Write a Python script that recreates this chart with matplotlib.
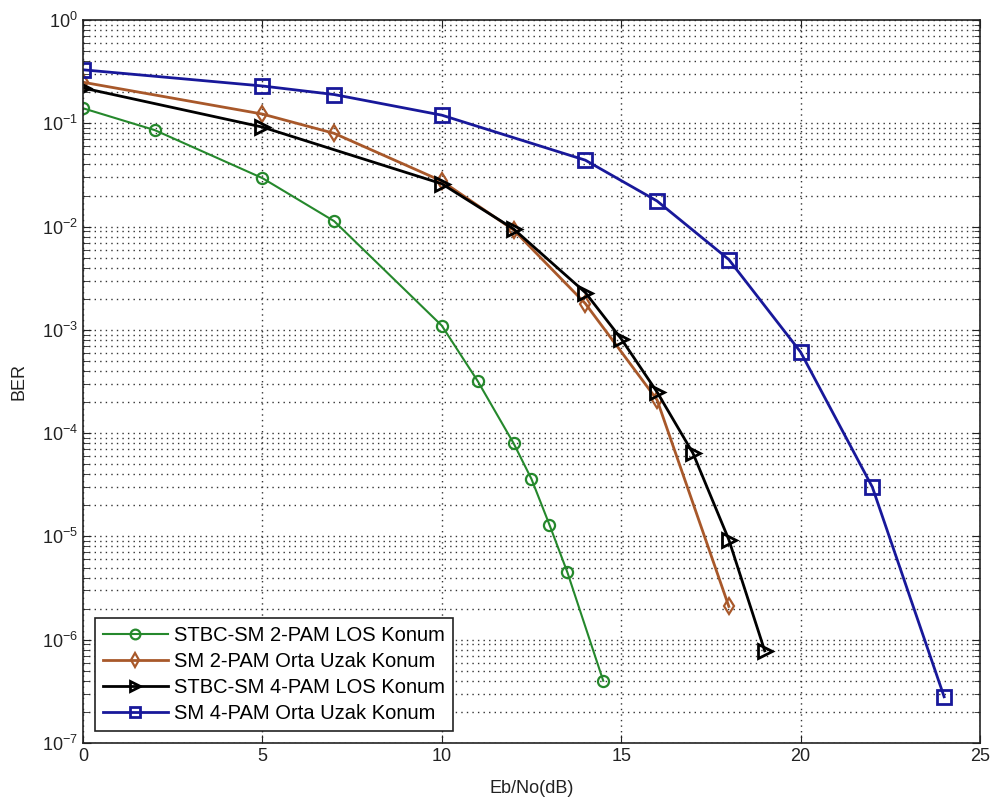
import matplotlib
matplotlib.use('Agg')
import matplotlib.pyplot as plt
from matplotlib.ticker import LogLocator, NullFormatter

plt.rcParams['font.family'] = ['Liberation Sans', 'DejaVu Sans']

# STBC-SM 2-PAM LOS
snr_g = [0, 2, 5, 7, 10, 11, 12, 12.5, 13, 13.5, 14.5]
ber_g = [0.14, 0.086, 0.0295, 0.0113, 1.1e-3, 3.2e-4, 8e-5, 3.6e-5, 1.3e-5, 4.5e-6, 4e-7]

# SM 2-PAM Orta Uzak
snr_o = [0, 5, 7, 10, 12, 14, 16, 18]
ber_o = [0.25, 0.123, 0.08, 0.0276, 0.0093, 0.0018, 2.1e-4, 2.1e-6]

# STBC-SM 4-PAM LOS
snr_k = [0, 5, 10, 12, 14, 15, 16, 17, 18, 19]
ber_k = [0.22, 0.092, 0.026, 0.0095, 0.0023, 8.2e-4, 2.5e-4, 6.4e-5, 9.3e-6, 7.8e-7]

# SM 4-PAM Orta Uzak
snr_b = [0, 5, 7, 10, 14, 16, 18, 20, 22, 24]
ber_b = [0.33, 0.23, 0.19, 0.12, 0.044, 0.0177, 0.0048, 6.1e-4, 3.0e-5, 2.8e-7]

labels = ['STBC-SM 2-PAM LOS Konum', 'SM 2-PAM Orta Uzak Konum',
          'STBC-SM 4-PAM LOS Konum', 'SM 4-PAM Orta Uzak Konum']

fig = plt.figure(figsize=(9.99, 8.02), dpi=100)
ax = fig.add_axes([0.083, 0.0736, 0.898, 0.9014])

ax.semilogy(snr_g, ber_g, color='#25882c', marker='o', ms=8, mfc='none',
            mew=1.6, lw=1.5, label=labels[0])
ax.semilogy(snr_o, ber_o, color='#a8582a', marker='d', ms=8, mfc='none',
            mew=1.6, lw=2, label=labels[1])
ax.semilogy(snr_k, ber_k, color='black', marker='>', ms=10, mfc='none',
            mew=2, lw=2, label=labels[2])
ax.semilogy(snr_b, ber_b, color='#18189a', marker='s', ms=10, mfc='none',
            mew=2, lw=2, label=labels[3])

ax.set_xlim(0, 25)
ax.set_ylim(1e-7, 1)
ax.set_xticks([0, 5, 10, 15, 20, 25])
ax.yaxis.set_major_locator(LogLocator(base=10, numticks=10))
ax.yaxis.set_minor_locator(LogLocator(base=10, subs=range(2, 10), numticks=100))
ax.yaxis.set_minor_formatter(NullFormatter())

grid_style = dict(linestyle=(0, (1, 3)), color='#333333', lw=1)
ax.grid(True, which='major', **grid_style)
ax.grid(True, which='minor', axis='y', **grid_style)
ax.tick_params(which='both', direction='in', top=True, right=True,
               labelsize=13, colors='#222222')
ax.tick_params(which='major', length=6)
ax.tick_params(which='minor', length=4)
for s in ax.spines.values():
    s.set_linewidth(1.2)
    s.set_color('#222222')

ax.set_xlabel('Eb/No(dB)', fontsize=13, labelpad=11, color='#222222')
ax.set_ylabel('BER', fontsize=13, color='#222222')
ax.yaxis.set_label_coords(-0.062, 0.5)

leg = ax.legend(loc='lower left', fontsize=14.5, fancybox=False, framealpha=1,
                edgecolor='#222222', handlelength=3.2, handletextpad=0.3,
                labelspacing=0.35, borderpad=0.4, borderaxespad=0.6)
leg.get_frame().set_linewidth(1.2)
for h in leg.legend_handles:
    h.set_markersize(7)

fig.savefig('out.png', dpi=100)
